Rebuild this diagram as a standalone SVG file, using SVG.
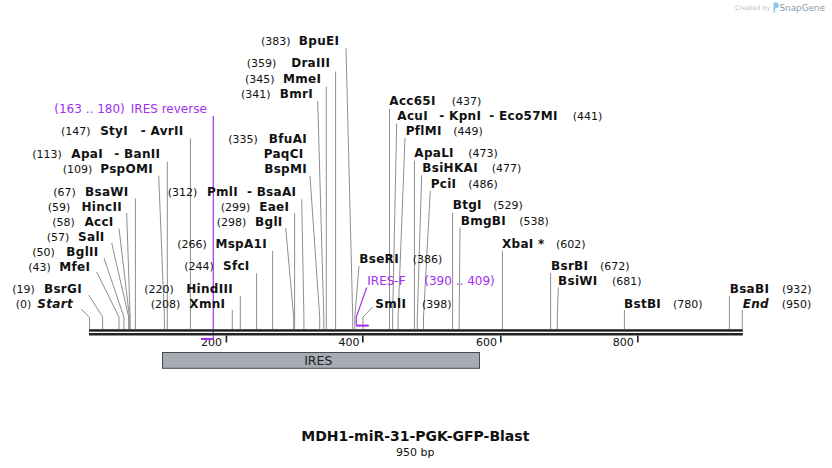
<svg xmlns="http://www.w3.org/2000/svg" width="832" height="468" viewBox="0 0 832 468">
<style>
text{font-family:"DejaVu Sans","Verdana",sans-serif;fill:#111}
.n{font-size:11px}
.b{font-size:12px;font-weight:bold;letter-spacing:0.3px}
.bi{font-size:12px;font-weight:bold;font-style:italic;letter-spacing:0.3px}
.e{text-anchor:end}
.p{font-size:12px;fill:#a030f0}
.ln{stroke:#8e8e8e;stroke-width:1;fill:none}
.pl{stroke:#a030f0;stroke-width:1.2;fill:none}
.tk{stroke:#222;stroke-width:1.6}
</style>
<rect width="832" height="468" fill="#fff"/>
<g id="logo">
<text x="735" y="10" style="font-size:6.4px;fill:#c2c2c2">Created by</text>
<path d="M773.5,2.5 h2.2 a3,3 0 0 1 0,6 h-0.6 v4 h-1.6 z" fill="#8cc4ec"/>
<text x="779.5" y="10.6" style="font-size:8.8px;fill:#8d9aa8">SnapGene</text>
</g>
<g id="connectors">
<polyline class="ln" points="81,309 89.5,317.3 89.5,329"/>
<polyline class="ln" points="88.7,295 102.6,317 102.6,329"/>
<polyline class="ln" points="96.7,272 119,317 119,329"/>
<polyline class="ln" points="104,258 123.9,317 123.9,329"/>
<polyline class="ln" points="111.7,243 128.7,317 128.7,329"/>
<polyline class="ln" points="119,228.5 129.4,317 129.4,329"/>
<polyline class="ln" points="126.7,213 130.1,317 130.1,329"/>
<polyline class="ln" points="135.4,198.5 135.4,329"/>
<polyline class="ln" points="158.7,175.5 164.4,317 164.4,329"/>
<polyline class="ln" points="167.3,161.7 167.3,329"/>
<polyline class="ln" points="190.4,138.3 190.4,329"/>
<polyline class="ln" points="232.3,310 232.3,329"/>
<polyline class="ln" points="240.3,296 240.3,329"/>
<polyline class="ln" points="256.6,273.3 256.6,329"/>
<polyline class="ln" points="272.6,251 272.6,329"/>
<polyline class="ln" points="285.7,228 293.7,317 293.7,329"/>
<polyline class="ln" points="294.6,213.3 294.6,329"/>
<polyline class="ln" points="301.7,199.3 303.9,317 303.9,329"/>
<polyline class="ln" points="310,176 319.7,317 319.7,329"/>
<polyline class="ln" points="317.7,101 323.8,317 323.8,329"/>
<polyline class="ln" points="326.3,86.7 326.3,329"/>
<polyline class="ln" points="335.6,71.7 335.6,329"/>
<polyline class="ln" points="346,48.3 352.7,317 352.7,329"/>
<polyline class="ln" points="359,266 354.8,317 354.8,329"/>
<polyline class="ln" points="372.7,307 363,317 363,329"/>
<polyline class="ln" points="389.5,109 389.5,329"/>
<polyline class="ln" points="396.7,123.5 392.6,317 392.6,329"/>
<polyline class="ln" points="405,138 398.1,317 398.1,329"/>
<polyline class="ln" points="414.4,160.7 414.4,329"/>
<polyline class="ln" points="421.7,175.3 417.3,317 417.3,329"/>
<polyline class="ln" points="430.3,191 423.5,317 423.5,329"/>
<polyline class="ln" points="452.6,212.7 452.6,329"/>
<polyline class="ln" points="460,227.5 459.2,317 459.2,329"/>
<polyline class="ln" points="502.4,250.7 502.4,329"/>
<polyline class="ln" points="550.6,273 550.6,329"/>
<polyline class="ln" points="558.3,287.5 557.3,317 557.3,329"/>
<polyline class="ln" points="624.4,310 624.4,329"/>
<polyline class="ln" points="729.4,296 729.4,329"/>
<polyline class="ln" points="742.3,310 742.3,329"/>
<polyline class="pl" points="213.3,116 213.3,339"/>
<polyline class="pl" points="366.7,287.5 356.3,317 356.3,325"/>
</g>
<g id="backbone">
<rect x="89" y="329.2" width="653.8" height="2.5" fill="#222"/>
<rect x="89" y="333" width="653.8" height="2.5" fill="#222"/>
<line class="tk" x1="226.4" y1="335.5" x2="226.4" y2="342.5"/>
<line class="tk" x1="362.8" y1="335.5" x2="362.8" y2="342.5"/>
<line class="tk" x1="500.8" y1="335.5" x2="500.8" y2="342.5"/>
<line class="tk" x1="637.8" y1="335.5" x2="637.8" y2="342.5"/>
<text class="n e" x="222" y="345.8">200</text>
<text class="n e" x="359.5" y="345.8">400</text>
<text class="n e" x="497" y="345.8">600</text>
<text class="n e" x="633.8" y="345.8">800</text>
</g>
<g id="primer-ires-reverse">
<rect x="201" y="338" width="12.6" height="2" fill="#a030f0"/>
<text class="p" x="54.3" y="113.3">(163 .. 180)</text>
<text class="p e" x="206.8" y="113.3">IRES reverse</text>
</g>
<g id="primer-ires-f">
<rect x="356" y="324.6" width="12.8" height="2" fill="#a030f0"/>
<text class="p" x="367.3" y="285">IRES-F</text>
<text class="p" x="424.3" y="285">(390 .. 409)</text>
</g>
<g id="feature-ires">
<rect x="162.5" y="352.5" width="317" height="15.8" fill="#a6acb3" stroke="#4a4a4a" stroke-width="1"/>
<text x="318.3" y="364.6" style="font-size:12.5px;text-anchor:middle;fill:#222">IRES</text>
</g>
<g id="site-start"><text class="n" x="15.7" y="308.3">(0)</text><text class="bi e" x="73" y="308.3">Start</text></g>
<g id="site-bsrgi"><text class="n" x="12.3" y="293.3">(19)</text><text class="b e" x="82" y="293.3">BsrGI</text></g>
<g id="site-mfei"><text class="n" x="28.3" y="270.7">(43)</text><text class="b e" x="90.3" y="270.7">MfeI</text></g>
<g id="site-bglii"><text class="n" x="32.3" y="255.7">(50)</text><text class="b e" x="98.6" y="255.7">BglII</text></g>
<g id="site-sali"><text class="n" x="46.7" y="240.7">(57)</text><text class="b e" x="104.6" y="240.7">SalI</text></g>
<g id="site-acci"><text class="n" x="52.3" y="226">(58)</text><text class="b e" x="113.6" y="226">AccI</text></g>
<g id="site-hincii"><text class="n" x="47.7" y="210.7">(59)</text><text class="b e" x="122" y="210.7">HincII</text></g>
<g id="site-bsawi"><text class="n" x="53.3" y="196">(67)</text><text class="b e" x="128.6" y="196">BsaWI</text></g>
<g id="site-pspomi"><text class="n" x="62.7" y="173.3">(109)</text><text class="b e" x="153" y="173.3">PspOMI</text></g>
<g id="site-apai"><text class="n" x="32.3" y="158.3">(113)</text><text class="b e" x="103" y="158.3">ApaI</text><text class="b e" x="160.3" y="158.3">- BanII</text></g>
<g id="site-styi"><text class="n" x="61" y="135">(147)</text><text class="b e" x="128" y="135">StyI</text><text class="b e" x="183.6" y="135">- AvrII</text></g>
<g id="site-xmni"><text class="n" x="150.7" y="308.3">(208)</text><text class="b e" x="225.3" y="308.3">XmnI</text></g>
<g id="site-hindiii"><text class="n" x="144.3" y="293.3">(220)</text><text class="b e" x="233" y="293.3">HindIII</text></g>
<g id="site-sfci"><text class="n" x="184.3" y="270.3">(244)</text><text class="b e" x="249.6" y="270.3">SfcI</text></g>
<g id="site-mspa1i"><text class="n" x="177.3" y="248.3">(266)</text><text class="b e" x="267" y="248.3">MspA1I</text></g>
<g id="site-bgli"><text class="n" x="216.7" y="226">(298)</text><text class="b e" x="282.6" y="226">BglI</text></g>
<g id="site-eaei"><text class="n" x="220.7" y="210.5">(299)</text><text class="b e" x="289.3" y="210.5">EaeI</text></g>
<g id="site-pmli"><text class="n" x="167.7" y="195.5">(312)</text><text class="b e" x="238" y="195.5">PmlI</text><text class="b e" x="296.3" y="195.5">- BsaAI</text></g>
<g id="site-bfuai"><text class="n" x="228.3" y="143.3">(335)</text><text class="b e" x="307" y="143.3">BfuAI</text><text class="b e" x="303.6" y="157.7">PaqCI</text><text class="b e" x="307" y="173.3">BspMI</text></g>
<g id="site-bmri"><text class="n" x="241" y="98.3">(341)</text><text class="b e" x="313" y="98.3">BmrI</text></g>
<g id="site-mmei"><text class="n" x="245" y="83.3">(345)</text><text class="b e" x="321.3" y="83.3">MmeI</text></g>
<g id="site-draiii"><text class="n" x="246.7" y="67.3">(359)</text><text class="b e" x="330.3" y="67.3">DraIII</text></g>
<g id="site-bpuei"><text class="n" x="261" y="45.3">(383)</text><text class="b e" x="339.3" y="45.3">BpuEI</text></g>
<g id="site-bseri"><text class="b" x="359.3" y="263.3">BseRI</text><text class="n" x="412.7" y="263.3">(386)</text></g>
<g id="site-smli"><text class="b" x="375.3" y="308.3">SmlI</text><text class="n" x="422" y="308.3">(398)</text></g>
<g id="site-acc65i"><text class="b" x="389.3" y="105">Acc65I</text><text class="n" x="451.7" y="105">(437)</text></g>
<g id="site-acui"><text class="b" x="397.3" y="120">AcuI</text><text class="b" x="439.3" y="120">- KpnI</text><text class="b" x="489.3" y="120">- Eco57MI</text><text class="n" x="572.7" y="120">(441)</text></g>
<g id="site-pflmi"><text class="b" x="405.7" y="135">PflMI</text><text class="n" x="453.3" y="135">(449)</text></g>
<g id="site-apali"><text class="b" x="414.3" y="157">ApaLI</text><text class="n" x="468.3" y="157">(473)</text></g>
<g id="site-bsihkai"><text class="b" x="422.3" y="172.3">BsiHKAI</text><text class="n" x="491.7" y="172.3">(477)</text></g>
<g id="site-pcii"><text class="b" x="430.7" y="187.5">PciI</text><text class="n" x="468.3" y="187.5">(486)</text></g>
<g id="site-btgi"><text class="b" x="452.7" y="209.3">BtgI</text><text class="n" x="493.3" y="209.3">(529)</text></g>
<g id="site-bmgbi"><text class="b" x="460.7" y="224.5">BmgBI</text><text class="n" x="519.3" y="224.5">(538)</text></g>
<g id="site-xbai"><text class="b" x="502" y="248">XbaI *</text><text class="n" x="556" y="248">(602)</text></g>
<g id="site-bsrbi"><text class="b" x="551" y="270">BsrBI</text><text class="n" x="600" y="270">(672)</text></g>
<g id="site-bsiwi"><text class="b" x="558" y="285.3">BsiWI</text><text class="n" x="612" y="285.3">(681)</text></g>
<g id="site-bstbi"><text class="b" x="624" y="308">BstBI</text><text class="n" x="673" y="308">(780)</text></g>
<g id="site-bsabi"><text class="b" x="729.7" y="293">BsaBI</text><text class="n" x="782" y="293">(932)</text></g>
<g id="site-end"><text class="bi" x="742.7" y="308">End</text><text class="n" x="781.7" y="308">(950)</text></g>
<g id="title">
<text x="415.3" y="440.6" style="font-size:14px;font-weight:bold;text-anchor:middle">MDH1-miR-31-PGK-GFP-Blast</text>
<text class="n" x="415.3" y="455.6" style="text-anchor:middle">950 bp</text>
</g>
</svg>
